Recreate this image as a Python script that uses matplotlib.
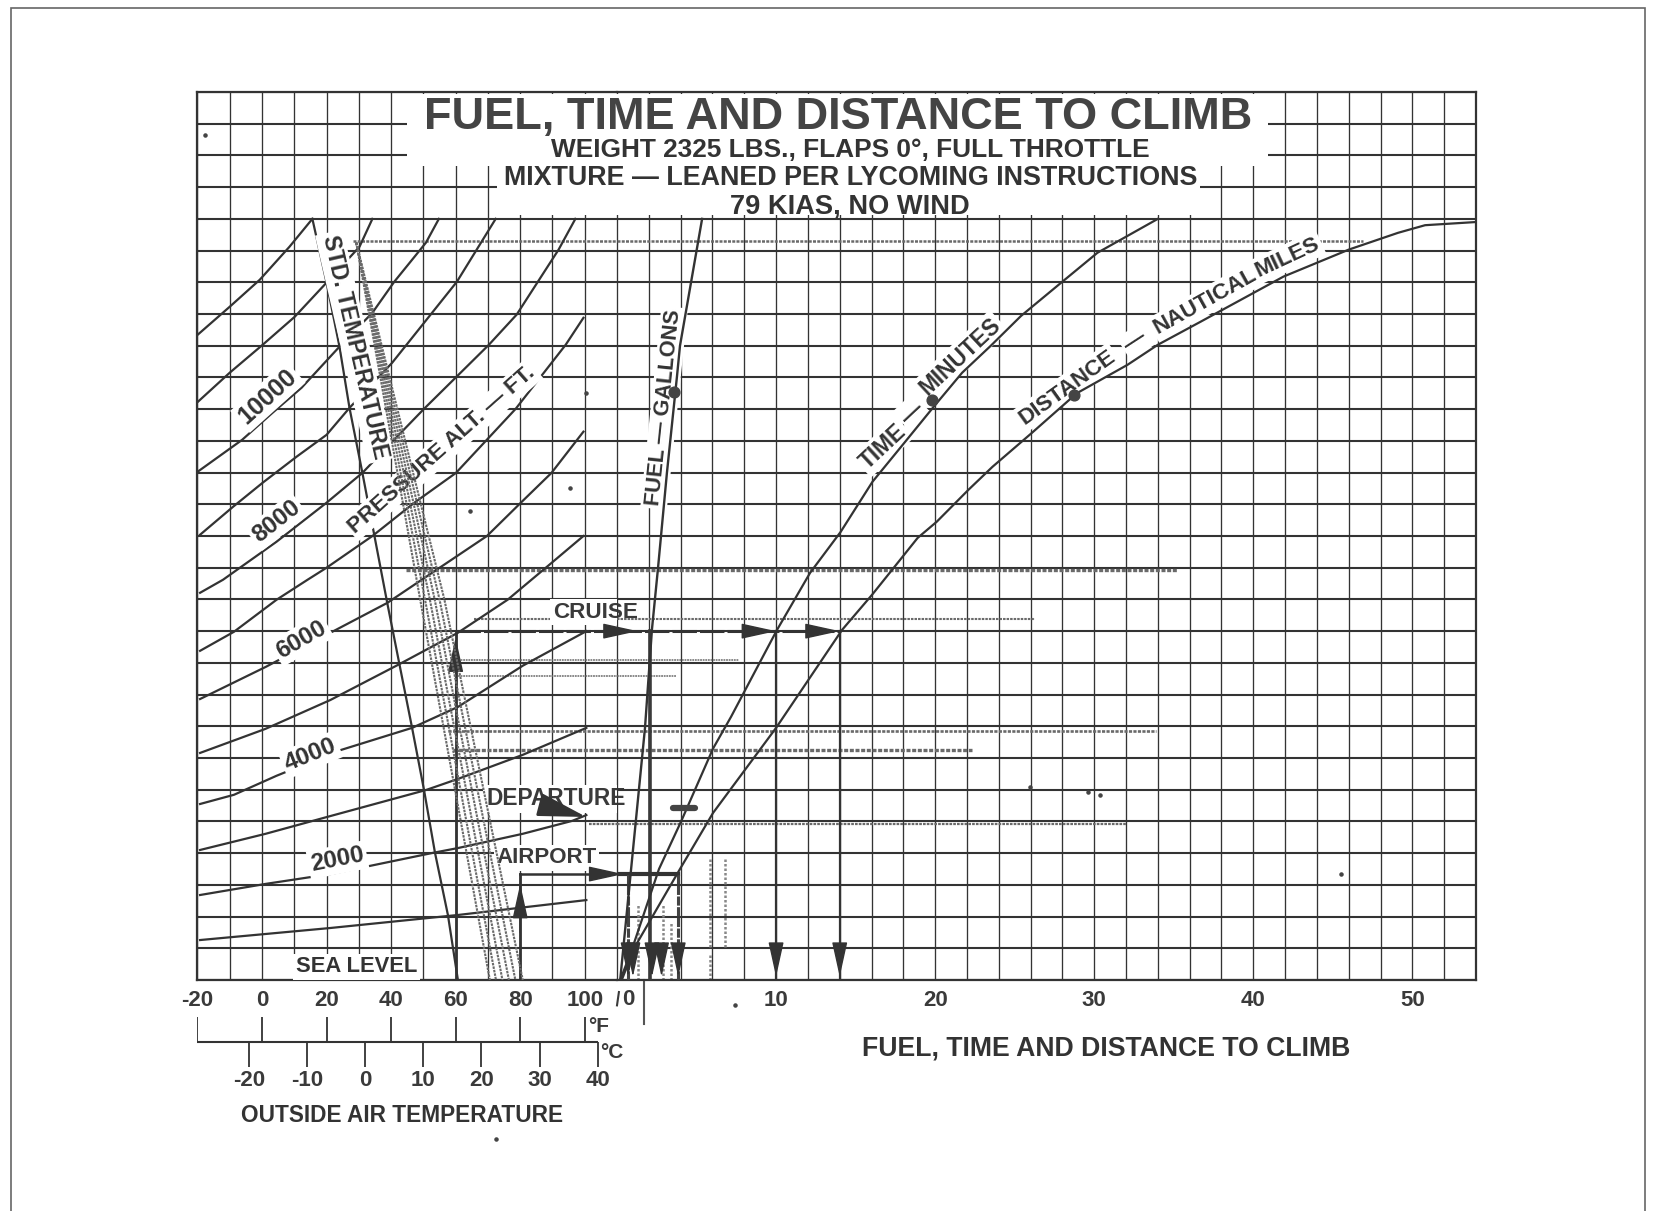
import matplotlib
matplotlib.use('Agg')
import matplotlib.pyplot as plt
from matplotlib.patches import Rectangle

plt.rcParams['font.family'] = ['Liberation Sans', 'DejaVu Sans']

# Left panel: outside air temperature (deg F) against grid rows
f_ticks = [-20, -10, 0, 10, 20, 30, 40, 50, 60, 70, 80, 90, 100, 110]
f_labels = ['-20', '', '0', '', '20', '', '40', '', '60', '', '80', '', '100', '']
sl_f = [-19.2, 21.2, 60.7, 100.5]
sl_row = [1.26, 1.64, 2.05, 2.52]
alt2_f = [-19.2, 1.1, 21.2, 53, 60.7, 80.8, 96.2, 100.5]
alt2_row = [2.68, 3.03, 3.34, 4.01, 4.16, 4.61, 5.02, 5.2]
alt3_f = [-19.2, 1.1, 21.2, 50.8, 60.7, 80.8, 100.5]
alt3_row = [4.10, 4.61, 5.17, 5.99, 6.34, 7.10, 7.95]
alt4_f = [-19.2, -8.7, 4.5, 23.4, 46.5, 60.7, 80.8, 100.5]
alt4_row = [5.55, 5.84, 6.44, 7.22, 7.95, 8.61, 9.91, 11.0]
alt5_f = [-19.2, 1.1, 21.2, 42.2, 60.7, 76.1, 89.7, 99.6]
alt5_row = [7.16, 7.92, 8.83, 9.94, 10.95, 11.99, 13.15, 14.0]
alt6_f = [-19.2, 1.1, 21.2, 38.8, 52.7, 69.7, 80.2, 89.7, 99.6]
alt6_row = [8.86, 9.87, 10.95, 11.89, 12.84, 14.0, 15.05, 15.99, 17.29]
alt7_f = [-19.2, -8.7, 4.5, 14.1, 20, 34.2, 47.2, 60.1, 78.6, 94.1, 99.6]
alt7_row = [10.38, 10.98, 11.99, 12.62, 13.0, 14.0, 15.05, 15.99, 18.01, 20.03, 20.88]
alt8_f = [-19.2, -12.1, 4.5, 20, 31.1, 40.3, 50.2, 70.3, 78.9, 91.9, 97.1]
alt8_row = [12.21, 12.62, 13.82, 15.05, 15.99, 16.97, 18.01, 20.03, 20.98, 23.03, 24.0]
alt9_f = [-19.2, -9, 0.2, 10.7, 20, 27.1, 40.3, 60.4, 72.4]
alt9_row = [14.04, 14.92, 15.68, 16.5, 17.19, 18.04, 19.46, 22.02, 24.0]
alt10_f = [-19.9, -6.2, 3.3, 12.3, 24, 34.2, 41, 50.8, 54.8]
alt10_row = [16.03, 17.03, 17.89, 18.68, 19.97, 21.04, 22.02, 23.25, 24]
alt11_f = [-19.9, -10, 0.2, 10.1, 20, 30.2, 34.2]
alt11_row = [18.23, 19.15, 20.03, 20.91, 21.99, 23.12, 24]
alt12_f = [-19.9, -10, -0.7, 8.5, 15.6]
alt12_row = [20.35, 21.23, 22.08, 23.12, 24]
std_f = [15.6, 20, 24, 27.1, 31.1, 38.8, 46.5, 50.2, 53.6, 57.6, 60.7]
std_row = [24, 21.99, 19.97, 18.04, 15.99, 11.89, 7.95, 5.99, 4.01, 2.05, 0]

# Right panel: fuel, time and distance
unit_ticks = list(range(0, 56, 2))
unit_labels = [str(u) if u % 10 == 0 and u > 0 else '' for u in unit_ticks]
fuel_x = [0.2, 1.76, 2.2, 2.58, 3.14, 3.77, 3.96, 5.35]
fuel_row = [0, 7.95, 11.07, 13, 16, 19.03, 20, 24]
time_x = [0.2, 0.88, 2.64, 4.03, 6.04, 7.17, 10.06, 12.14, 14.06, 16.06, 18, 19.9, 21.7, 23.5, 25.4, 28, 30.2, 34]
time_row = [0, 0.88, 3.5, 5.0, 7.3, 8.3, 11.04, 12.84, 14.13, 15.71, 16.9, 18.07, 19.15, 20, 20.94, 22.02, 22.93, 24]
dist_x = [0.3, 1.07, 3.96, 6.04, 10, 14.15, 16.04, 17.4, 18.9, 20.1, 22.1, 23.6, 26.1, 28.9, 32.1, 34, 36.7, 41.9, 46, 49.1, 50.8, 54]
dist_row = [0, 1, 3.5, 5.27, 7.95, 11.04, 12.15, 13, 13.94, 14.45, 15.46, 16.18, 17.26, 18.5, 19.4, 20.03, 20.76, 22.18, 23.03, 23.56, 23.8, 23.9]
dot_x = [3.6, 19.8, 28.7]
dot_row = [18.55, 18.3, 18.45]

# Temperature ruler under the chart
ruler_f = [-20, 0, 20, 40, 60, 80, 100]
ruler_c = [-20, -10, 0, 10, 20, 30, 40]

# Pencil marks on the scan
pencil_mid_f = [49, 50.5, 52, 53.5, 55, 56.5]
pencil_bot_f = [70.6, 72.5, 74.5, 76.5, 78.5, 80.8]
pencil_rows = [23.3, 12.93, 11.39, 10.1, 9.6, 7.86, 7.26, 4.92]
pencil_start_f = [28.3, 44.7, 65.6, 60.7, 60.7, 57.6, 59.2, 101.4]
pencil_end_x = [46.9, 35.2, 26.3, 7.7, 3.7, 33.9, 22.3, 32]
pencil_width = [1.8, 2.4, 1.5, 1.1, 1.1, 1.9, 2.4, 1.6]
speck_x = [205, 586, 470, 570, 1088, 1341, 496, 1030, 1100, 735]
speck_y = [135, 393, 511, 488, 792, 874, 1139, 787, 795, 1005]

dark = '#333333'
grey = '#6a6a6a'
bw = 1656
bh = 1211
bottom = (bh - 980) / bh
height = 888 / bh

fig = plt.figure(figsize=(16.56, 12.11), dpi=100)
fig.patches.append(Rectangle((11 / bw, -0.01), (1645 - 11) / bw, 1 - 8 / bh + 0.01,
                             transform=fig.transFigure, fc='white', ec='#666666', lw=1.2, zorder=-1))

ax1 = fig.add_axes([197.5 / bw, bottom, (617 - 197.5) / bw, height], facecolor='none')
ax2 = fig.add_axes([617 / bw, bottom, (1476 - 617) / bw, height], facecolor='none')
ax1.set_xlim(-20, 110)
ax2.set_xlim(0, 54)
ax1.set_xticks(f_ticks, f_labels)
ax2.set_xticks(unit_ticks, unit_labels)
for ax in [ax1, ax2]:
    ax.set_ylim(0, 28)
    ax.set_yticks(range(0, 29))
    ax.set_yticklabels([])
    ax.tick_params(length=0, pad=7, labelsize=16, labelcolor='#3a3a3a')
    ax.grid(True, axis='x', color=dark, lw=0.95, zorder=1)
    ax.grid(True, axis='y', color=dark, lw=1.5, zorder=1)
    ax.set_axisbelow(True)
    for s in ax.spines.values():
        s.set_color(dark)
        s.set_linewidth(1.6)
ax1.spines['right'].set_visible(False)
ax2.spines['left'].set_visible(False)
for t in ax1.get_xticklabels() + ax2.get_xticklabels():
    t.set_fontweight('bold')
ax2.text(0.7, -0.62, '0', fontsize=16, fontweight='bold', color='#3a3a3a', ha='center', va='center')
ax2.plot([0, 0.12], [-0.8, -0.38], color='#3a3a3a', lw=1.5, clip_on=False)

# pencil marks, over the printed text as on the scan
stipple = (0, (1.2, 0.5))
for m, b in zip(pencil_mid_f, pencil_bot_f):
    ax1.plot([29.2, m, b], [23.25, 12, 0], color=grey, lw=1.5, ls=stipple, zorder=6)
for r, s, e, w in zip(pencil_rows, pencil_start_f, pencil_end_x, pencil_width):
    ax1.plot([s, 110], [r, r], color=grey, lw=w, ls=stipple, zorder=2)
    ax2.plot([0, e], [r, r], color=grey, lw=w, ls=stipple, zorder=2)
ax2.plot([1.7, 1.7], [0, -1.4], color='#555555', lw=1.5, clip_on=False, zorder=2)
for px, r0, r1 in [(5.85, 1.04, 3.8), (6.8, 1.04, 3.8), (5.85, 0, 0.8), (1.3, 0, 2.4), (2.9, 0, 2.4), (3.4, 0, 1.8)]:
    ax2.plot([px, px], [r0, r1], color='#888888', lw=1.8, ls=(0, (1, 0.8)), zorder=2)

alt_curves = [(sl_f, sl_row), (alt2_f, alt2_row), (alt3_f, alt3_row), (alt4_f, alt4_row),
              (alt5_f, alt5_row), (alt6_f, alt6_row), (alt7_f, alt7_row), (alt8_f, alt8_row),
              (alt9_f, alt9_row), (alt10_f, alt10_row), (alt11_f, alt11_row), (alt12_f, alt12_row)]
for x, y in alt_curves:
    ax1.plot(x, y, color=dark, lw=1.6, zorder=3)
ax1.plot(std_f, std_row, color=dark, lw=1.6, zorder=3)
ax2.plot(fuel_x, fuel_row, color=dark, lw=1.7, zorder=6)
ax2.plot(time_x, time_row, color=dark, lw=1.6, zorder=6)
ax2.plot(dist_x, dist_row, color=dark, lw=1.6, zorder=6)
ax2.scatter(dot_x, dot_row, s=60, color='#444444', zorder=7)
ax2.plot([3.5, 4.9], [5.43, 5.43], color='#444444', lw=4.5, solid_capstyle='round', zorder=7)

# Worked example: cruise
arrow = dict(arrowstyle='-|>,head_length=1.0,head_width=0.22', color=dark, lw=1, mutation_scale=22, shrinkA=0, shrinkB=0)
ax1.plot([60, 60], [0, 11], color=dark, lw=2, zorder=4)
ax1.annotate('', xy=(60, 10.8), xytext=(60, 8.5), arrowprops=arrow, zorder=4)
ax1.plot([60, 110], [11, 11], color=dark, lw=2.2, ls=(0, (8, 1)), zorder=4)
ax2.plot([0, 14], [11, 11], color=dark, lw=2.2, ls=(0, (8, 1)), zorder=4)
ax2.annotate('', xy=(1.3, 11), xytext=(-1, 11), arrowprops=arrow, zorder=4, annotation_clip=False)
ax2.annotate('', xy=(10, 11), xytext=(7.5, 11), arrowprops=arrow, zorder=4)
ax2.annotate('', xy=(14, 11), xytext=(11.5, 11), arrowprops=arrow, zorder=4)
ax2.plot([2.07, 2.07], [0, 11], color='#3a3a3a', lw=2.6, zorder=4)
for vx in [10, 14]:
    ax2.plot([vx, vx], [0, 11], color=dark, lw=1.6, zorder=4)
    ax2.annotate('', xy=(vx, 0.1), xytext=(vx, 1.2), arrowprops=arrow, zorder=4)

# Worked example: departure airport
ax1.plot([80, 80], [0, 3.34], color=dark, lw=2, zorder=4)
ax1.annotate('', xy=(80, 3.03), xytext=(80, 1.5), arrowprops=arrow, zorder=4)
ax1.plot([80, 105], [3.34, 3.34], color=dark, lw=1.8, zorder=4)
ax2.annotate('', xy=(0.4, 3.34), xytext=(-1.5, 3.34), arrowprops=arrow, zorder=4, annotation_clip=False)
ax2.plot([0, 3.85], [3.34, 3.34], color=dark, lw=3, zorder=4)
for vx in [0.7, 3.85]:
    ax2.plot([vx, vx], [0, 3.34], color='#444444', lw=2.2, ls=(0, (3, 0.5)), zorder=4)
for vx in [0.7, 1.0, 2.2, 2.8, 3.85]:
    ax2.annotate('', xy=(vx, 0.1), xytext=(vx, 1.0), arrowprops=arrow, zorder=4)
ax1.annotate('', xy=(100.5, 5.14), xytext=(90, 5.42),
             arrowprops=dict(arrowstyle='-|>,head_length=1.0,head_width=0.24', color=dark, lw=2, mutation_scale=30, shrinkA=0, shrinkB=0), zorder=6)

# Labels sit on a white patch that breaks the grid
halo = dict(fc='white', ec='none', pad=2)
ax1.text(1.8, 18.39, '10000', rotation=42, fontsize=18, fontweight='bold', color=dark, ha='center', va='center', bbox=halo, zorder=5)
ax1.text(4.5, 14.45, '8000', rotation=38, fontsize=17.5, fontweight='bold', color=dark, ha='center', va='center', bbox=halo, zorder=5)
ax1.text(12.3, 10.73, '6000', rotation=30, fontsize=17.5, fontweight='bold', color=dark, ha='center', va='center', bbox=halo, zorder=5)
ax1.text(15, 7.1, '4000', rotation=22, fontsize=17.5, fontweight='bold', color=dark, ha='center', va='center', bbox=halo, zorder=5)
ax1.text(23.4, 3.79, '2000', rotation=11, fontsize=17.5, fontweight='bold', color=dark, ha='center', va='center', bbox=halo, zorder=5)
ax1.text(29.2, 0.41, 'SEA LEVEL', fontsize=15.8, fontweight='bold', color=dark, ha='center', va='center', bbox=halo, zorder=5)
ax1.text(55.8, 16.72, 'PRESSURE ALT. \u2014 FT.', rotation=41.5, fontsize=16.2, fontweight='bold', color=dark, ha='center', va='center', bbox=halo, zorder=5)
ax1.text(28.9, 19.97, 'STD. TEMPERATURE', rotation=-77, fontsize=16.4, fontweight='bold', color=dark, ha='center', va='center', bbox=halo, zorder=5)
ax1.text(103.3, 11.6, 'CRUISE', fontsize=16.2, fontweight='bold', color='#3a3a3a', ha='center', va='center', bbox=halo, zorder=5)
ax1.text(91, 5.71, 'DEPARTURE', fontsize=16.4, fontweight='bold', color='#3a3a3a', ha='center', va='center', bbox=halo, zorder=5)
ax1.text(88.2, 3.85, 'AIRPORT', fontsize=16, fontweight='bold', color='#3a3a3a', ha='center', va='center', bbox=halo, zorder=5)
ax2.text(2.96, 18.04, 'FUEL \u2014 GALLONS', rotation=84, fontsize=15.7, fontweight='bold', color=dark, ha='center', va='center', bbox=halo, zorder=5)
# These two follow the bend of their curves word by word
ax2.text(16.73, 16.81, 'TIME', rotation=43, fontsize=16.3, fontweight='bold', color=dark, ha='center', va='center', bbox=halo, zorder=5)
ax2.text(18.55, 17.88, '\u2014', rotation=43, fontsize=16.3, fontweight='bold', color=dark, ha='center', va='center', bbox=halo, zorder=5)
ax2.text(21.57, 19.65, 'MINUTES', rotation=43, fontsize=16.3, fontweight='bold', color=dark, ha='center', va='center', bbox=halo, zorder=5)
ax2.text(28.3, 18.68, 'DISTANCE', rotation=35.6, fontsize=16.2, fontweight='bold', color=dark, ha='center', va='center', bbox=halo, zorder=5)
ax2.text(32.58, 20.13, '\u2014', rotation=33, fontsize=16.2, fontweight='bold', color=dark, ha='center', va='center', bbox=halo, zorder=5)
ax2.text(36.98, 21.39, 'NAUTICAL', rotation=29, fontsize=16.2, fontweight='bold', color=dark, ha='center', va='center', bbox=halo, zorder=5)
ax2.text(42.14, 22.78, 'MILES', rotation=25, fontsize=16.2, fontweight='bold', color=dark, ha='center', va='center', bbox=halo, zorder=5)

# Double scale for temperature
ruler = fig.add_axes([197.5 / bw, (bh - 1067) / bh, (617 - 197.5) / bw, 50 / bh], facecolor='none')
ruler.set_xlim(-20, 110)
ruler.set_ylim(-1, 1)
ruler.axis('off')
ruler_c_f = [c * 9 / 5 + 32 for c in ruler_c]
ruler.hlines(0, -20, max(ruler_c_f), color=dark, lw=1.5)
ruler.vlines(ruler_f, 0, 1, color=dark, lw=1.3)
ruler.vlines(ruler_c_f, -1, 0, color=dark, lw=1.3)
for f, c in zip(ruler_c_f, ruler_c):
    ruler.text(f, -1.55, str(c), fontsize=16, fontweight='bold', color='#3a3a3a', ha='center', va='center', clip_on=False)
ruler.text(101, 0.6, '\u00b0F', fontsize=15, fontweight='bold', color='#3a3a3a', ha='left', va='center')
ruler.text(104.8, -0.4, '\u00b0C', fontsize=15, fontweight='bold', color='#3a3a3a', ha='left', va='center')

# Overlay in image pixels for the title block and captions
top = fig.add_axes([0, 0, 1, 1], facecolor='none', zorder=6)
top.set_xlim(0, bw)
top.set_ylim(bh, 0)
top.axis('off')
top.add_patch(Rectangle((407, 94), 1268 - 407, 166 - 94, fc='white', ec='none'))
top.add_patch(Rectangle((497, 166), 1200 - 497, 215 - 166, fc='white', ec='none'))
top.text(838, 129, 'FUEL, TIME AND DISTANCE TO CLIMB', fontsize=32.5, color='#444444', ha='center', va='baseline', fontweight='bold')
top.text(850, 157, 'WEIGHT 2325 LBS., FLAPS 0\u00b0, FULL THROTTLE', fontsize=18.9, fontweight='bold', color='#333333', ha='center', va='baseline')
top.text(851, 185, 'MIXTURE \u2014 LEANED PER LYCOMING INSTRUCTIONS', fontsize=19.4, fontweight='bold', color='#333333', ha='center', va='baseline')
top.text(850, 213, '79 KIAS, NO WIND', fontsize=19.6, fontweight='bold', color='#333333', ha='center', va='baseline')
top.text(402, 1115, 'OUTSIDE AIR TEMPERATURE', fontsize=16.3, fontweight='bold', color='#333333', ha='center', va='center')
top.text(1106, 1049, 'FUEL, TIME AND DISTANCE TO CLIMB', fontsize=19.2, fontweight='bold', color='#333333', ha='center', va='center')
top.scatter(speck_x, speck_y, s=5, color='#444444')

fig.savefig('out.png', dpi=100)
